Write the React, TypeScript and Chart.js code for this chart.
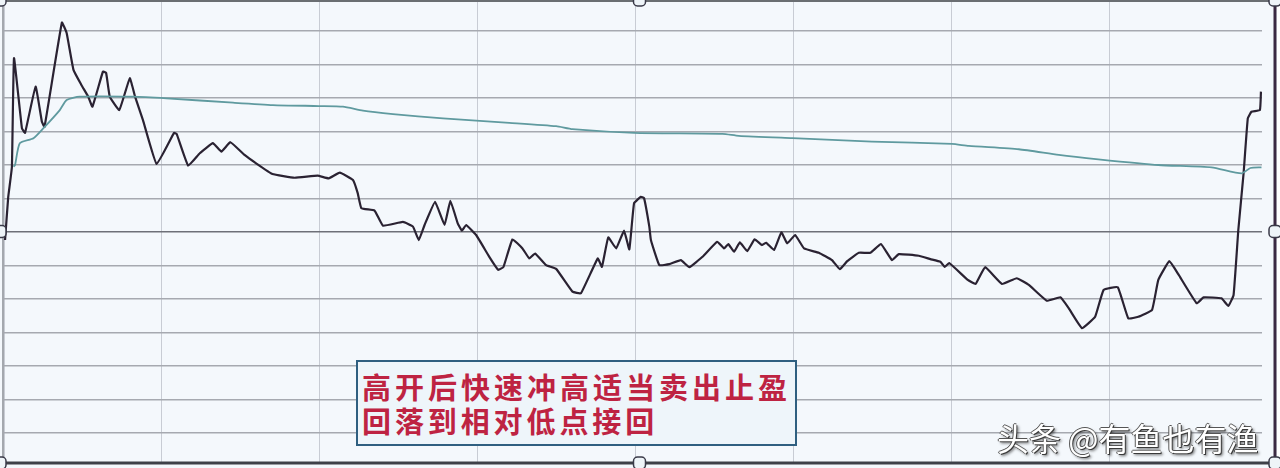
import React, { useEffect, useRef } from "react";
import { Chart, registerables } from "chart.js";

Chart.register(...registerables);

// minutes since 9:30 (0..239) and change in % for the intraday price line
const priceMinutes = [
  0.2, 0.8, 1.5, 1.9, 3.4, 4.0, 6.0, 7.2, 7.7, 11.0, 11.9, 13.2, 14.7, 16.0, 16.8, 18.8, 19.4, 20.1, 21.9, 23.9,
  24.9, 26.4, 29.0, 32.3, 32.8, 35.0, 37.2, 39.7, 41.3, 43.0, 45.7, 47.9, 51.0, 55.2, 59.6, 61.7, 63.8, 66.3, 67.2, 67.9,
  70.4, 72.0, 75.8, 77.7, 78.8, 79.9, 81.9, 83.7, 84.8, 86.2, 87.0, 87.8, 89.7, 92.2, 93.9, 94.9, 96.6, 98.5, 99.8, 100.9,
  103.0, 104.9, 108.0, 109.6, 112.8, 113.6, 114.8, 116.3, 117.8, 118.8, 119.7, 121.0, 121.6, 122.6, 122.9, 124.5, 126.4, 128.6, 130.2, 132.7,
  135.5, 136.8, 137.6, 138.7, 139.8, 141.2, 142.6, 144.0, 144.8, 146.3, 147.7, 148.8, 150.3, 152.0, 154.8, 157.3, 158.8, 160.2, 162.4, 164.6,
  166.6, 168.7, 170.0, 173.8, 176.0, 177.9, 178.7, 179.6, 183.1, 184.6, 186.4, 189.6, 192.4, 194.7, 198.1, 200.7, 202.3, 204.8, 207.3, 208.9,
  211.6, 213.6, 215.5, 218.1, 219.3, 221.4, 223.1, 226.6, 227.9, 231.3, 232.6, 233.6, 234.5, 235.5, 236.3, 237.0, 238.6, 238.8,
];
const priceValues = [
  -0.24, 1.04, 1.94, 5.19, 3.1, 2.96, 4.34, 3.29, 3.14, 6.25, 5.94, 4.84, 4.39, 4.04, 3.74, 4.79, 4.75, 4.04, 3.64, 4.59,
  4.04, 3.34, 2.03, 2.96, 2.93, 1.98, 2.35, 2.65, 2.4, 2.68, 2.3, 2.05, 1.73, 1.62, 1.68, 1.6, 1.77, 1.55, 1.16, 0.71,
  0.64, 0.19, 0.3, 0.16, -0.24, 0.21, 0.9, 0.21, 0.93, 0.26, 0.04, 0.21, -0.09, -0.74, -1.13, -1.04, -0.22, -0.49, -0.79, -0.64,
  -0.99, -1.1, -1.78, -1.83, -0.79, -1.04, -0.16, -0.49, 0.04, -0.52, 0.86, 1.05, 1.01, 0.16, -0.24, -0.99, -0.96, -0.84, -1.05, -0.74,
  -0.29, -0.49, -0.36, -0.59, -0.31, -0.57, -0.22, -0.39, -0.32, -0.54, -0.01, -0.34, -0.09, -0.49, -0.62, -0.84, -1.11, -0.87, -0.62, -0.62,
  -0.36, -0.84, -0.66, -0.71, -0.81, -0.89, -1.04, -0.93, -1.43, -1.55, -1.05, -1.55, -1.38, -1.58, -2.05, -1.95, -2.28, -2.87, -2.53, -1.73,
  -1.65, -2.58, -2.53, -2.33, -1.43, -0.87, -1.26, -2.13, -1.95, -1.98, -2.21, -1.88, 0.06, 1.75, 3.39, 3.59, 3.64, 4.19,
];

// average price line
const avgMinutes = [
  1.8, 2.1, 3.0, 5.6, 7.5, 10.6, 11.9, 14.4, 24.5, 30.9, 43.5, 51.1, 59.8, 64.4, 68.2, 73.9, 83.4, 96.0, 104.9, 108.0,
  119.7, 136.5, 139.6, 149.8, 164.9, 180.1, 183.3, 192.8, 200.4, 207.9, 219.3, 229.4, 235.1, 236.8, 238.9,
];
const avgValues = [
  1.95, 2.0, 2.65, 2.8, 3.1, 3.64, 3.94, 4.04, 4.04, 3.99, 3.86, 3.79, 3.76, 3.74, 3.62, 3.52, 3.39, 3.26, 3.16, 3.07,
  2.96, 2.93, 2.87, 2.8, 2.7, 2.63, 2.57, 2.47, 2.3, 2.17, 2.0, 1.93, 1.75, 1.91, 1.93,
];

const noteLines = ["高开后快速冲高适当卖出止盈", "回落到相对低点接回"];
const watermark = "头条 @有鱼也有渔";

const framePlugin = {
  id: "frame",
  beforeDraw(chart: any) {
    const { ctx, width, height } = chart;
    ctx.save();
    ctx.fillStyle = "#f4f8fc";
    ctx.fillRect(0, 0, width, height);
    ctx.restore();
  },
  afterDraw(chart: any) {
    const { ctx, chartArea: a } = chart;
    const right = a.right + 13;
    const bottom = a.bottom - 1;
    ctx.save();
    ctx.strokeStyle = "#6a6e72";
    ctx.lineWidth = 2;
    ctx.beginPath();
    ctx.moveTo(0, 1);
    ctx.lineTo(right, 1);
    ctx.stroke();
    ctx.strokeStyle = "#8a8e94";
    ctx.lineWidth = 1.5;
    ctx.beginPath();
    ctx.moveTo(a.left - 1, 0);
    ctx.lineTo(a.left - 1, bottom);
    ctx.stroke();
    ctx.strokeStyle = "#3e4048";
    ctx.lineWidth = 3;
    ctx.beginPath();
    ctx.moveTo(0, bottom);
    ctx.lineTo(right, bottom);
    ctx.stroke();
    ctx.strokeStyle = "#3b2a42";
    ctx.lineWidth = 3;
    ctx.beginPath();
    ctx.moveTo(right, 0);
    ctx.lineTo(right, bottom + 2);
    ctx.stroke();
    ctx.fillStyle = "#ffffff";
    ctx.fillRect(right + 2, 0, 10, a.bottom + 10);
    const midX = (a.left + right) / 2;
    const midY = (a.top + bottom) / 2;
    const handles = [
      [0, 0], [midX, 0], [right, 0],
      [0, midY], [right, midY],
      [0, bottom], [midX, bottom], [right, bottom],
    ];
    ctx.fillStyle = "#eef4f8";
    ctx.strokeStyle = "#3a3a48";
    ctx.lineWidth = 1.5;
    for (const [hx, hy] of handles) {
      ctx.beginPath();
      (ctx as any).roundRect(hx - 6, hy - 6, 12, 12, 4);
      ctx.fill();
      ctx.stroke();
    }
    ctx.restore();
  },
};

export default function App() {
  const canvasRef = useRef<HTMLCanvasElement | null>(null);

  useEffect(() => {
    if (!canvasRef.current) return;
    const chart = new Chart(canvasRef.current, {
      type: "line",
      data: {
        datasets: [
          {
            label: "均价",
            data: avgMinutes.map((m, i) => ({ x: m, y: avgValues[i] })),
            borderColor: "#5f9a9f",
            borderWidth: 1.8,
            pointRadius: 0,
            tension: 0.2,
          },
          {
            label: "价格",
            data: priceMinutes.map((m, i) => ({ x: m, y: priceValues[i] })),
            borderColor: "#2a2232",
            borderWidth: 2.2,
            pointRadius: 0,
            tension: 0.1,
          },
        ],
      },
      options: {
        animation: false,
        responsive: false,
        devicePixelRatio: 1,
        layout: { padding: { left: 4, right: 18, top: 0, bottom: 4 } },
        plugins: { legend: { display: false }, tooltip: { enabled: false } },
        scales: {
          x: {
            type: "linear",
            min: 0,
            max: 239,
            ticks: { display: false, stepSize: 30, includeBounds: false },
            grid: { color: "#c8ccd4", lineWidth: 1, drawTicks: false },
            border: { display: false },
          },
          y: {
            min: -6.925,
            max: 6.925,
            ticks: { display: false, stepSize: 1, includeBounds: false },
            grid: {
              color: (c: any) => (c.tick && c.tick.value === 0 ? "#6e7078" : "#a6a9b0"),
              lineWidth: 1.5,
              drawTicks: false,
            },
            border: { display: false },
          },
        },
      },
      plugins: [framePlugin],
    });
    return () => chart.destroy();
  }, []);

  return (
    <div style={{ position: "absolute", left: 0, top: 0, width: 1280, height: 468, overflow: "hidden" }}>
      <canvas ref={canvasRef} width={1280} height={468} style={{ display: "block" }} />
      <div
        style={{
          position: "absolute",
          left: 356,
          top: 360,
          width: 433,
          height: 75,
          border: "2px solid #2f5f80",
          background: "#eef5fa",
          paddingLeft: 4,
          paddingTop: 7,
          boxSizing: "content-box",
          fontFamily: "'Noto Sans CJK SC', sans-serif",
          fontWeight: 700,
          fontSize: 29,
          lineHeight: "34px",
          color: "#be2342",
          whiteSpace: "nowrap",
        }}
      >
        <div style={{ letterSpacing: 4.0 }}>{noteLines[0]}</div>
        <div style={{ letterSpacing: 3.9 }}>{noteLines[1]}</div>
      </div>
      <div
        style={{
          position: "absolute",
          left: 997,
          top: 417,
          fontFamily: "'Noto Sans CJK SC', sans-serif",
          fontSize: 32,
          lineHeight: "40px",
          color: "#ffffff",
          whiteSpace: "nowrap",
          textShadow: "1px 1px 0 #3a3a3a, -1px 0 0 #555, 0 -1px 0 #555, 2px 2px 3px rgba(0,0,0,0.6)",
        }}
      >
        {watermark}
      </div>
    </div>
  );
}
